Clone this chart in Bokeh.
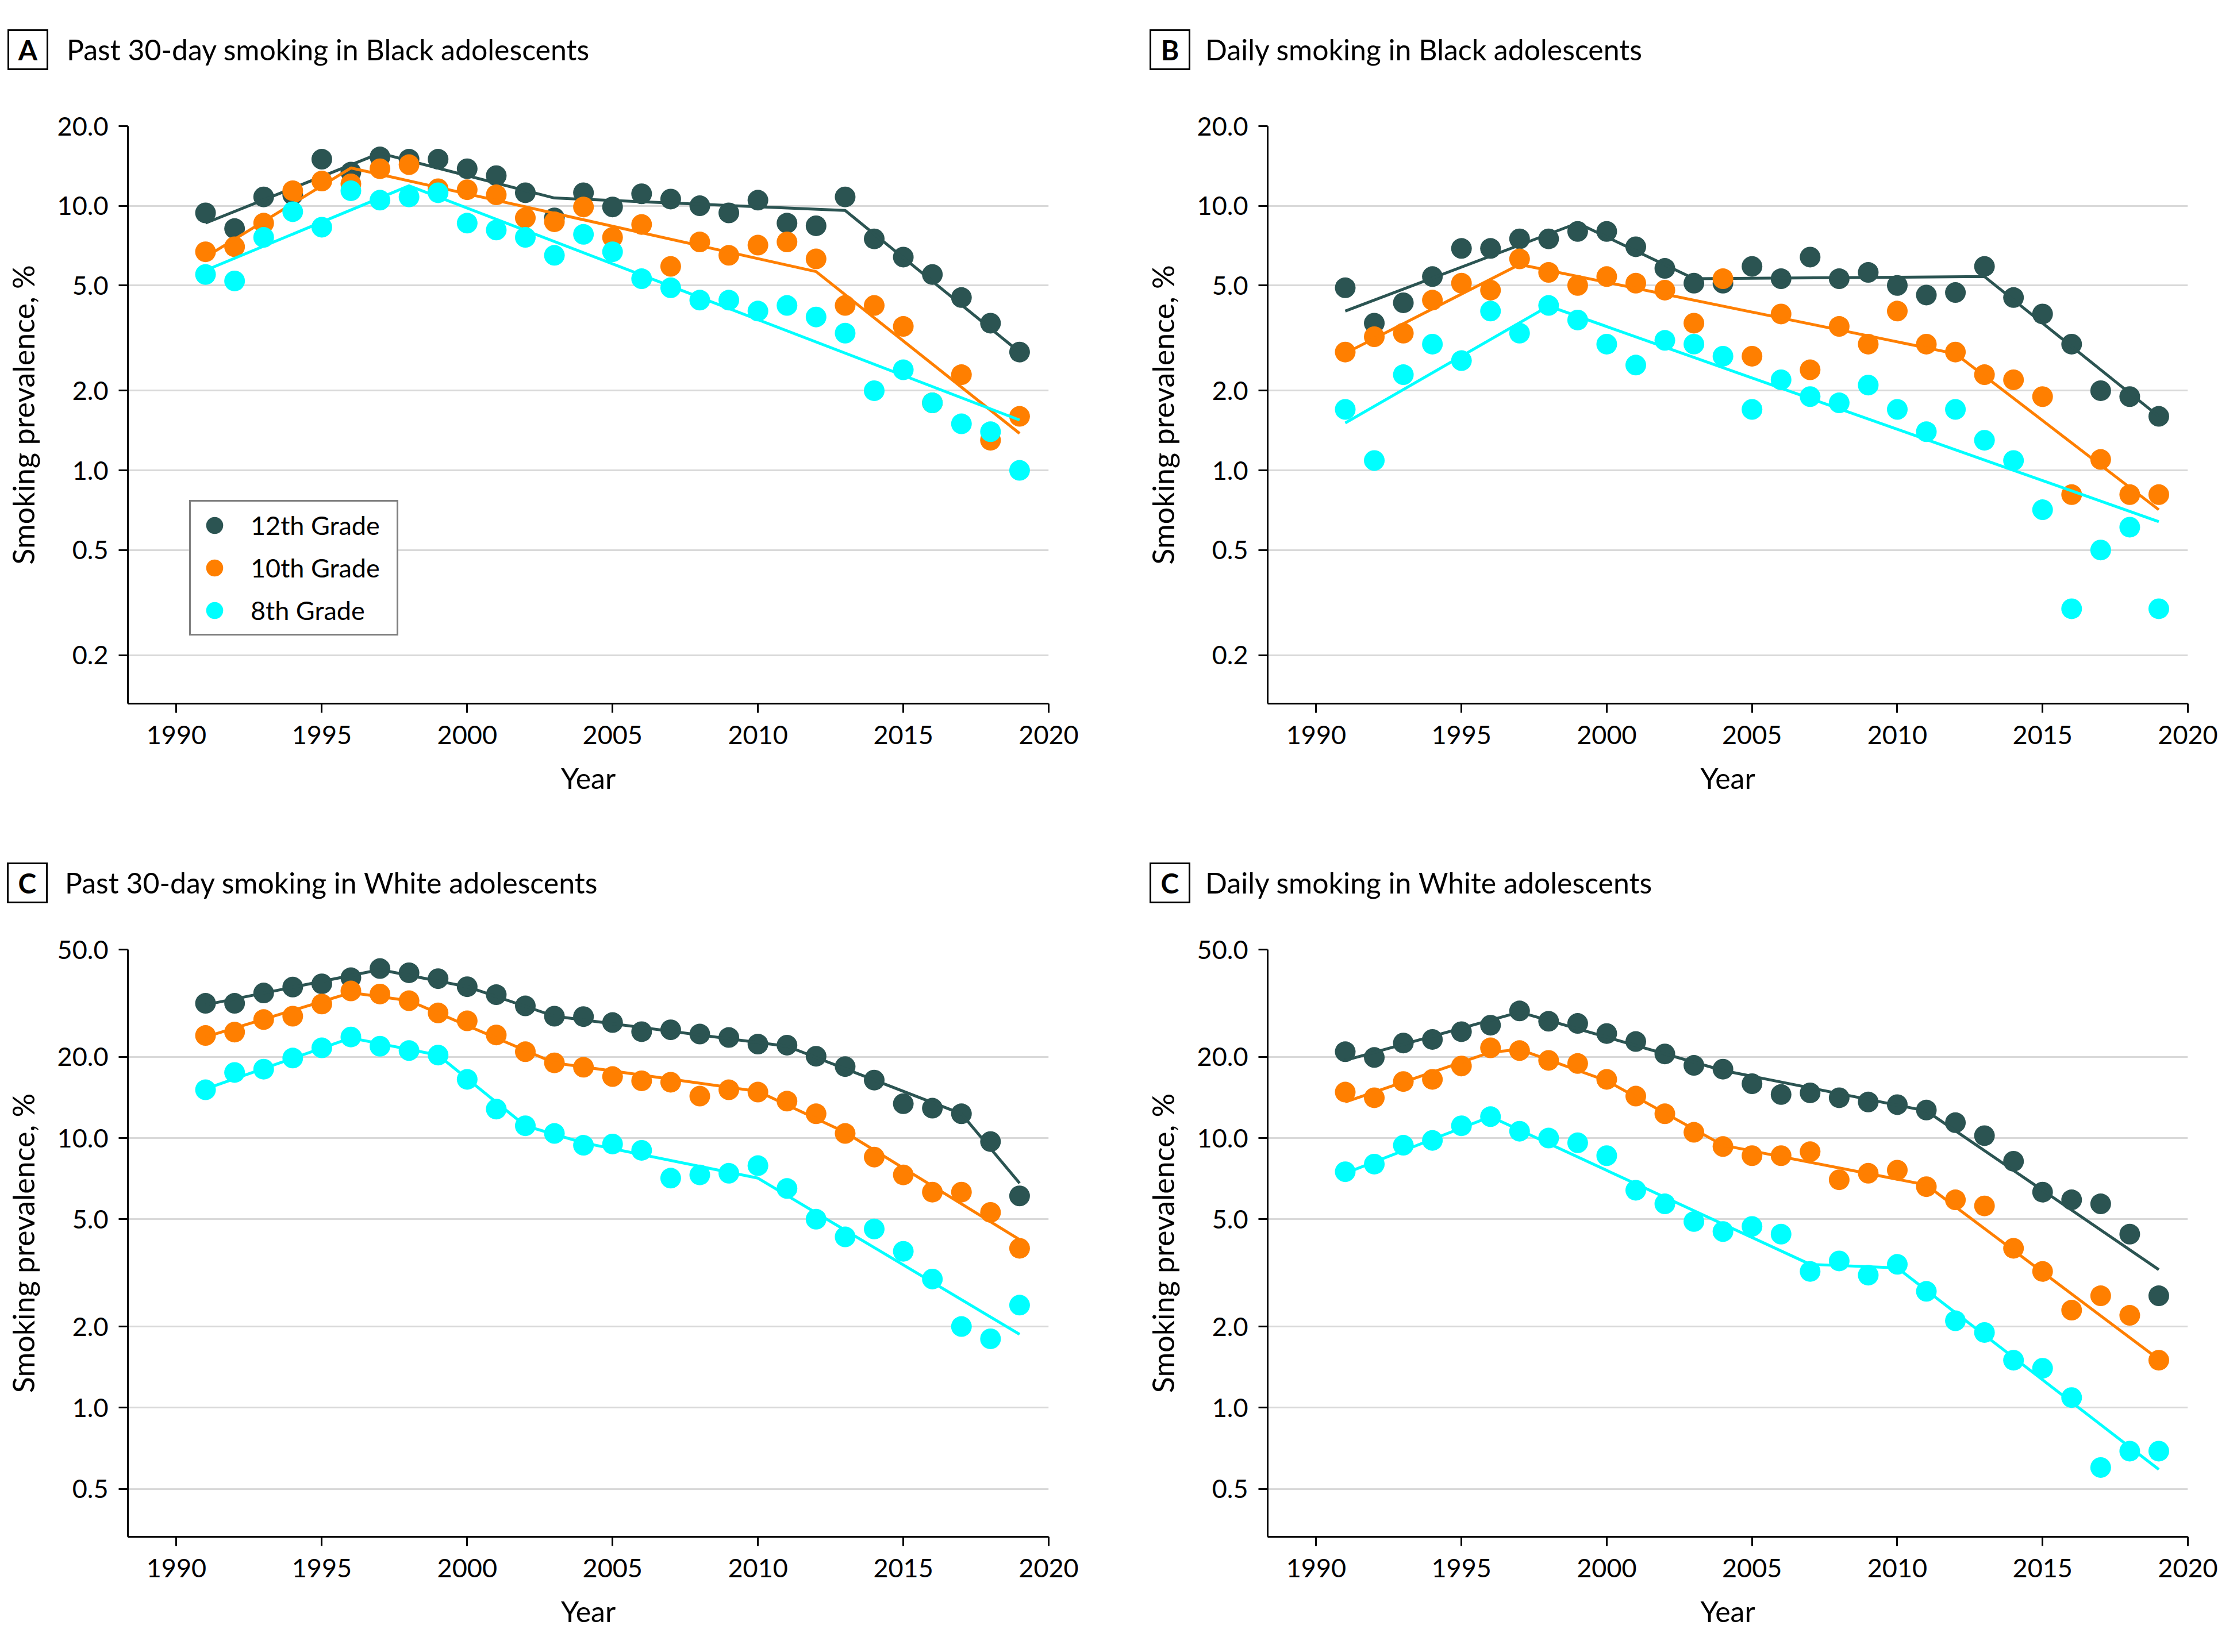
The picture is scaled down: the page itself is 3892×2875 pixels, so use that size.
from bokeh.plotting import figure
from bokeh.models import Range1d, FixedTicker, PrintfTickFormatter, Legend, LegendItem, Div
from bokeh.layouts import column, row
from bokeh.embed import file_html
from bokeh.resources import INLINE

FONT = "Lato"
COL12 = "#2b5452"
COL10 = "#ff7f00"
COL8 = "#00ffff"

years = list(range(1991, 2020))
x_ticks = [1990, 1995, 2000, 2005, 2010, 2015, 2020]
y_ticks_black = [0.2, 0.5, 1.0, 2.0, 5.0, 10.0, 20.0]
y_ticks_white = [0.5, 1.0, 2.0, 5.0, 10.0, 20.0, 50.0]
grade_labels = ["12th Grade", "10th Grade", "8th Grade"]

# Panel A: past 30-day smoking, Black adolescents
a12 = [9.4, 8.2, 10.8, 11.0, 15.0, 13.4, 15.3, 15.0, 15.0, 13.8, 13.0, 11.2, 9.0, 11.2, 9.9,
       11.1, 10.6, 10.0, 9.4, 10.5, 8.6, 8.4, 10.8, 7.5, 6.4, 5.5, 4.5, 3.6, 2.8]
a10 = [6.7, 7.0, 8.6, 11.4, 12.4, 12.1, 13.8, 14.3, 11.6, 11.5, 11.0, 9.0, 8.7, 9.9, 7.6,
       8.5, 5.9, 7.3, 6.5, 7.1, 7.3, 6.3, 4.2, 4.2, 3.5, 1.8, 2.3, 1.3, 1.6]
a8 = [5.5, 5.2, 7.6, 9.5, 8.3, 11.4, 10.5, 10.8, 11.2, 8.6, 8.1, 7.6, 6.5, 7.8, 6.7,
      5.3, 4.9, 4.4, 4.4, 4.0, 4.2, 3.8, 3.3, 2.0, 2.4, 1.8, 1.5, 1.4, 1.0]
a12_trend_x = [1991, 1997, 2003, 2013, 2019]
a12_trend_y = [8.6, 15.8, 10.7, 9.6, 2.8]
a10_trend_x = [1991, 1996, 2012, 2019]
a10_trend_y = [6.4, 13.9, 5.64, 1.38]
a8_trend_x = [1991, 1998, 2019]
a8_trend_y = [5.7, 11.9, 1.55]

# Panel B: daily smoking, Black adolescents
b12 = [4.9, 3.6, 4.3, 5.4, 6.9, 6.9, 7.5, 7.5, 8.0, 8.0, 7.0, 5.8, 5.1, 5.1, 5.9,
       5.3, 6.4, 5.3, 5.6, 5.0, 4.6, 4.7, 5.9, 4.5, 3.9, 3.0, 2.0, 1.9, 1.6]
b10 = [2.8, 3.2, 3.3, 4.4, 5.1, 4.8, 6.3, 5.6, 5.0, 5.4, 5.1, 4.8, 3.6, 5.3, 2.7,
       3.9, 2.4, 3.5, 3.0, 4.0, 3.0, 2.8, 2.3, 2.2, 1.9, 0.81, 1.1, 0.81, 0.81]
b8 = [1.7, 1.09, 2.3, 3.0, 2.6, 4.0, 3.3, 4.2, 3.7, 3.0, 2.5, 3.1, 3.0, 2.7, 1.7,
      2.2, 1.9, 1.8, 2.1, 1.7, 1.4, 1.7, 1.3, 1.09, 0.71, 0.30, 0.50, 0.61, 0.30]
b12_trend_x = [1991, 1999, 2003, 2013, 2019]
b12_trend_y = [4.0, 8.6, 5.3, 5.4, 1.6]
b10_trend_x = [1991, 1997, 2012, 2019]
b10_trend_y = [2.77, 6.0, 2.76, 0.71]
b8_trend_x = [1991, 1998, 2019]
b8_trend_y = [1.51, 4.18, 0.64]

# Panel C: past 30-day smoking, White adolescents
c12 = [31.6, 31.6, 34.5, 36.3, 37.3, 39.3, 42.5, 41.0, 39.0, 36.4, 34.0, 30.9, 28.3, 28.2, 26.8,
       24.8, 25.2, 24.3, 23.6, 22.3, 22.1, 20.1, 18.4, 16.4, 13.4, 12.9, 12.3, 9.7, 6.1]
c10 = [24.0, 24.7, 27.5, 28.3, 31.4, 35.1, 34.2, 32.3, 29.1, 27.2, 24.1, 20.9, 19.0, 18.3, 16.9,
       16.3, 16.1, 14.3, 15.1, 14.8, 13.7, 12.3, 10.4, 8.5, 7.3, 6.3, 6.3, 5.3, 3.9]
c8 = [15.1, 17.5, 18.0, 19.8, 21.6, 23.7, 21.9, 21.1, 20.3, 16.5, 12.8, 11.1, 10.4, 9.4, 9.5,
      9.0, 7.1, 7.3, 7.4, 7.9, 6.5, 5.0, 4.3, 4.6, 3.8, 3.0, 2.0, 1.8, 2.4]
c12_trend_x = [1991, 1997, 2000, 2003, 2011, 2017, 2019]
c12_trend_y = [31.2, 42.1, 36.4, 28.3, 21.9, 12.3, 6.8]
c10_trend_x = [1991, 1996, 1998, 2003, 2010, 2013, 2019]
c10_trend_y = [23.7, 34.6, 32.3, 19.0, 14.9, 10.5, 4.2]
c8_trend_x = [1991, 1996, 1999, 2002, 2004, 2010, 2019]
c8_trend_y = [15.2, 23.5, 20.3, 11.1, 9.6, 7.1, 1.87]

# Panel D: daily smoking, White adolescents
d12 = [20.9, 19.9, 22.5, 23.2, 24.8, 26.2, 29.6, 27.1, 26.6, 24.4, 22.8, 20.5, 18.6, 18.0, 15.9,
       14.5, 14.7, 14.1, 13.6, 13.3, 12.7, 11.4, 10.2, 8.2, 6.3, 5.9, 5.7, 4.4, 2.6]
d10 = [14.8, 14.1, 16.2, 16.5, 18.5, 21.6, 21.1, 19.4, 18.9, 16.5, 14.3, 12.3, 10.5, 9.3, 8.6,
       8.6, 8.9, 7.0, 7.4, 7.6, 6.6, 5.9, 5.6, 3.9, 3.2, 2.3, 2.6, 2.2, 1.5]
d8 = [7.5, 8.0, 9.4, 9.8, 11.1, 12.0, 10.6, 10.0, 9.6, 8.6, 6.4, 5.7, 4.9, 4.5, 4.7,
      4.4, 3.2, 3.5, 3.1, 3.4, 2.7, 2.1, 1.9, 1.5, 1.4, 1.09, 0.60, 0.69, 0.69]
d12_trend_x = [1991, 1997, 2004, 2011, 2019]
d12_trend_y = [19.4, 29.3, 17.8, 12.6, 3.25]
d10_trend_x = [1991, 1996, 1997, 2000, 2004, 2011, 2019]
d10_trend_y = [13.6, 20.8, 21.3, 16.3, 9.4, 6.7, 1.51]
d8_trend_x = [1991, 1996, 2007, 2010, 2019]
d8_trend_y = [7.4, 12.0, 3.4, 3.3, 0.59]

W = 1938
HEAD_H = 150
PLOT_H = 1279


def make_header(letter, title, box_left, box_top, text_left, text_top):
    html = (
        f'<div style="position:relative;width:{W}px;height:{HEAD_H}px;font-family:Lato,sans-serif;color:black;">'
        f'<div style="position:absolute;box-sizing:border-box;left:{box_left}px;top:{box_top}px;'
        f'width:71px;height:71px;border:3px solid black;font-weight:bold;font-size:48px;'
        f'line-height:65px;text-align:center;">{letter}</div>'
        f'<div style="position:absolute;left:{text_left}px;top:{text_top}px;font-size:50px;line-height:50px;'
        f'white-space:nowrap;">{title}</div>'
        f'</div>'
    )
    return Div(text=html, width=W, height=HEAD_H, margin=(0, 0, 0, 0))


def make_panel(series, trends, yticks, yrange, mb, legend=False):
    left, right, top, bottom = mb
    p = figure(width=W, height=PLOT_H, y_axis_type="log",
               x_range=Range1d(1988.33, 2020), y_range=Range1d(*yrange),
               output_backend="svg", toolbar_location=None,
               min_border_left=left, min_border_right=right,
               min_border_top=top, min_border_bottom=bottom,
               background_fill_color="white", border_fill_color="white")
    p.outline_line_color = None
    p.xgrid.visible = False
    p.yaxis.ticker = FixedTicker(ticks=yticks)
    p.ygrid.ticker = FixedTicker(ticks=yticks)
    p.ygrid.grid_line_color = "#d9d9d9"
    p.ygrid.grid_line_width = 3
    p.yaxis.formatter = PrintfTickFormatter(format="%.1f")
    p.xaxis.ticker = FixedTicker(ticks=x_ticks)
    for ax in (p.xaxis, p.yaxis):
        ax.axis_line_width = 3
        ax.axis_line_color = "black"
        ax.major_tick_line_width = 3
        ax.major_tick_out = 16
        ax.major_tick_in = 0
        ax.minor_tick_line_color = None
        ax.major_label_text_font = FONT
        ax.major_label_text_font_size = "45px"
        ax.major_label_text_color = "black"
        ax.axis_label_text_font = FONT
        ax.axis_label_text_font_style = "normal"
        ax.axis_label_text_color = "black"
    p.xaxis.axis_label = "Year"
    p.yaxis.axis_label = "Smoking prevalence, %"
    p.xaxis.axis_label_text_font_size = "50px"
    p.yaxis.axis_label_text_font_size = "52px"
    p.xaxis.major_label_standoff = 22
    p.yaxis.major_label_standoff = 18
    p.xaxis.axis_label_standoff = 26
    p.yaxis.axis_label_standoff = 26

    colors = [COL12, COL10, COL8]
    renderers = []
    for vals, (tx, ty), c in zip(series, trends, colors):
        r = p.scatter(x=years, y=vals, size=36, fill_color=c, line_color=None)
        p.line(x=tx, y=ty, line_width=5, line_color=c)
        renderers.append(r)

    if legend:
        items = [LegendItem(label=lab, renderers=[r]) for lab, r in zip(grade_labels, renderers)]
        lg = Legend(items=items, location=(107, 118), glyph_width=74, glyph_height=74,
                    spacing=0, padding=4, margin=0, label_standoff=26, label_width=250,
                    label_text_font=FONT, label_text_font_size="45px", label_text_color="black",
                    border_line_color="black", border_line_width=3,
                    background_fill_color="white", background_fill_alpha=1.0)
        p.add_layout(lg)
    return p


hA = make_header("A", "Past 30-day smoking in Black adolescents", 13, 51, 116, 61)
pA = make_panel([a12, a10, a8],
                [(a12_trend_x, a12_trend_y), (a10_trend_x, a10_trend_y), (a8_trend_x, a8_trend_y)],
                y_ticks_black, (0.1314, 20.0), (222, 114, 69, 205), legend=True)
hB = make_header("B", "Daily smoking in Black adolescents", 62, 51, 159, 61)
pB = make_panel([b12, b10, b8],
                [(b12_trend_x, b12_trend_y), (b10_trend_x, b10_trend_y), (b8_trend_x, b8_trend_y)],
                y_ticks_black, (0.1314, 20.0), (267, 70, 69, 205))
hC = make_header("C", "Past 30-day smoking in White adolescents", 12, 72, 113, 82)
pC = make_panel([c12, c10, c8],
                [(c12_trend_x, c12_trend_y), (c10_trend_x, c10_trend_y), (c8_trend_x, c8_trend_y)],
                y_ticks_white, (0.332, 50.0), (222, 114, 73, 184))
hD = make_header("C", "Daily smoking in White adolescents", 62, 72, 159, 82)
pD = make_panel([d12, d10, d8],
                [(d12_trend_x, d12_trend_y), (d10_trend_x, d10_trend_y), (d8_trend_x, d8_trend_y)],
                y_ticks_white, (0.332, 50.0), (267, 70, 73, 184))

layout = column(row(column(hA, pA), column(hB, pB)), row(column(hC, pC), column(hD, pD)))
open("out.html", "w").write(file_html(layout, INLINE))
